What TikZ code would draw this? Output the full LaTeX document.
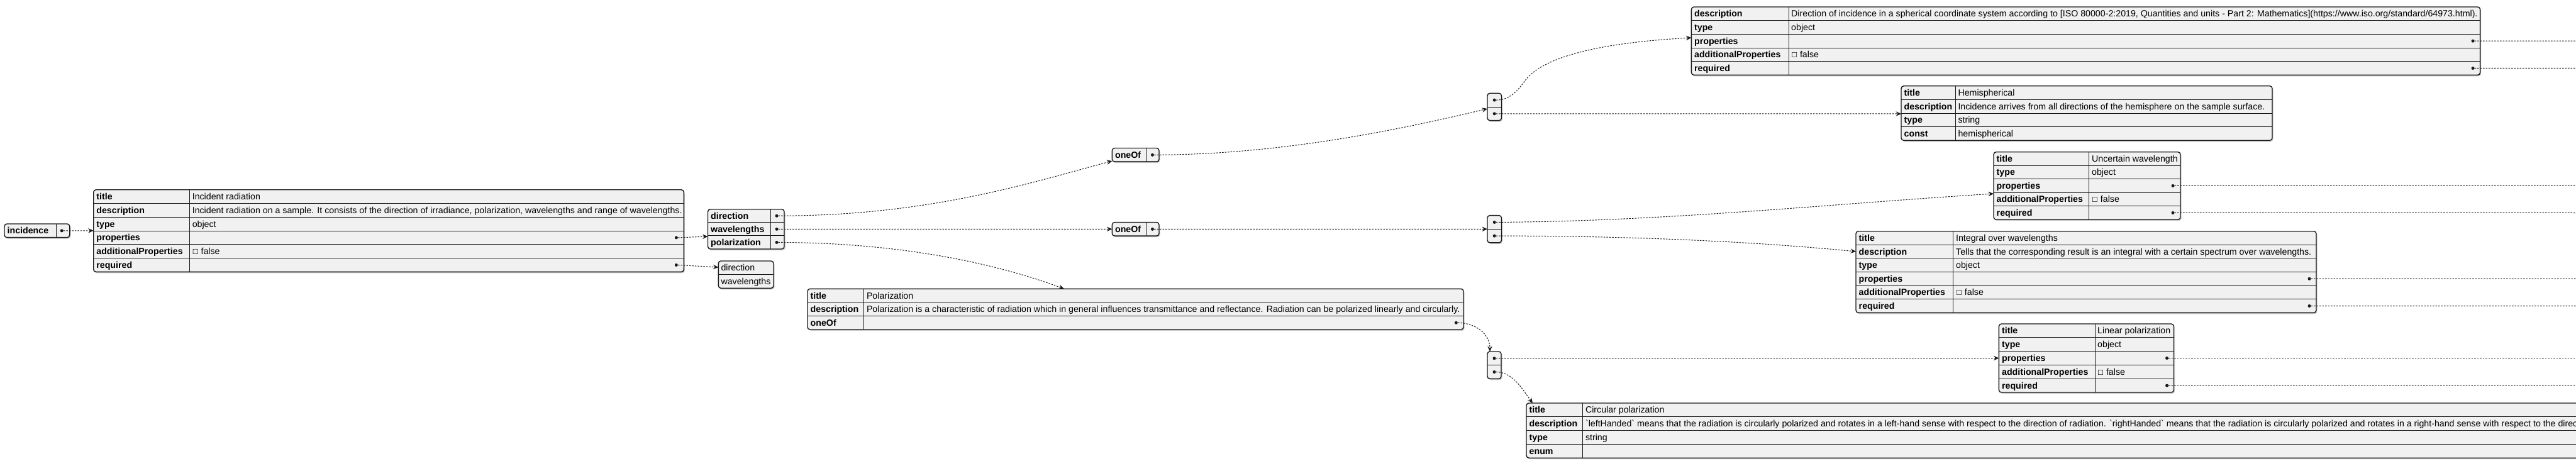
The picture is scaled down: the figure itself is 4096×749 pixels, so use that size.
\documentclass[tikz,border=0pt]{standalone}
\usepackage{fontspec}
\setmainfont{Liberation Sans}
\newfontfamily\dvs{DejaVu Sans}
\usetikzlibrary{arrows.meta}
\definecolor{boxF}{HTML}{F1F1F1}
\definecolor{lineC}{HTML}{181818}
\newcommand\valfont{\fontsize{14.2}{16}\selectfont}
\newcommand\keyfont{\fontsize{14.2}{16}\selectfont\bfseries}
\newcommand\cb{{\dvs\fontsize{11}{12}\selectfont ☐}}
\newcommand\settable[6]{\def\tN{#1}\def\tL{#2}\def\tT{#3}\def\tD{#4}\def\tR{#5}\def\rh{#6}}
\newcommand\jframe[1]{%
  \fill[shadowbox] ({\tL+1.5},{\tT+2}) rectangle ({\tR+1.5},{\tT+#1*\rh+2});
  \node[box, minimum width={(\tR-\tL)*1pt}, minimum height={#1*\rh*1pt}] (\tN) at ({(\tL+\tR)/2},{\tT+#1*\rh/2}) {};
  \pgfmathtruncatemacro\nm{#1-1}%
  \ifnum\nm>0 \foreach \i in {1,...,\nm}{\draw[sep] (\tL,{\tT+\i*\rh}) -- (\tR,{\tT+\i*\rh});}\fi
}
\newcommand\jdiv[1]{\draw[sep] (\tD,\tT) -- (\tD,{\tT+#1*\rh});}
\newcommand\jkey[2]{\node[keyt] (\tN-k#1) at ({\tL+4.5},{\tT+(#1-0.5)*\rh+5}) {#2};}
\newcommand\jval[2]{\node[valt] (\tN-v#1) at ({\tD+4},{\tT+(#1-0.5)*\rh+5}) {#2};}
\newcommand\jdot[2]{\node[dotn] (\tN-d#1) at ({#2},{\tT+(#1-0.5)*\rh}) {};}
\tikzset{
 box/.style={draw=lineC, fill=boxF, rounded corners=4pt, line width=1.4pt, inner sep=0pt, outer sep=0pt},
 shadowbox/.style={fill=black!22, rounded corners=4pt},
 sep/.style={draw=lineC, line width=0.9pt},
 keyt/.style={anchor=base west, inner sep=0pt, font=\keyfont, text=black},
 valt/.style={anchor=base west, inner sep=0pt, font=\valfont, text=black},
 dotn/.style={circle, fill=lineC, inner sep=0pt, minimum size=5pt},
 conn/.style={draw=lineC, line width=1pt, dash pattern=on 2.5pt off 2pt, -{Stealth[length=8.5pt,width=7.5pt,inset=3pt]}},
 connx/.style={draw=lineC, line width=1pt, dash pattern=on 2.5pt off 2pt},
}
\begin{document}
\begin{tikzpicture}[x=1pt,y=-1pt]
\useasboundingbox (0,0) rectangle (4096,749);
\fill[white] (0,0) rectangle (4096,749);
\clip (0,0) rectangle (4096,749);

% incidence
\settable{inc}{7}{356}{89.8}{110.8}{21.67}
\jframe{1}\jdiv{1}\jkey{1}{incidence}\jdot{1}{98.2}

% main table
\settable{main}{148.7}{301.7}{301.6}{1087.3}{21.77}
\jframe{6}\jdiv{6}
\jkey{1}{title}\jval{1}{Incident radiation}
\jkey{2}{description}\jval{2}{Incident radiation on a sample. It consists of the direction of irradiance, polarization, wavelengths and range of wavelengths.}
\jkey{3}{type}\jval{3}{object}
\jkey{4}{properties}\jdot{4}{\tR-12}
\jkey{5}{additionalProperties}\jval{5}{\cb\ false}
\jkey{6}{required}\jdot{6}{\tR-12}

% properties list
\settable{props}{1125.5}{332.7}{1225}{1247}{21.1}
\jframe{3}\jdiv{3}
\jkey{1}{direction}\jdot{1}{1235}
\jkey{2}{wavelengths}\jdot{2}{1235}
\jkey{3}{polarization}\jdot{3}{1235}

% required list
\settable{req}{1142.3}{415}{1142.3}{1230}{21.67}
\jframe{2}
\jval{1}{direction}\jval{2}{wavelengths}

% oneOf boxes
\settable{one1}{1768.4}{235.5}{1822}{1843}{21.67}
\jframe{1}\jdiv{1}\jkey{1}{oneOf}\jdot{1}{1832.4}
\settable{one2}{1768.4}{353.5}{1822}{1843}{21.67}
\jframe{1}\jdiv{1}\jkey{1}{oneOf}\jdot{1}{1832.4}

% item lists
\settable{l1}{2365}{148.3}{2365}{2387.5}{21.67}
\jframe{2}\jdot{1}{2376.2}\jdot{2}{2376.2}
\settable{l2}{2365}{342.6}{2365}{2387.5}{21.67}
\jframe{2}\jdot{1}{2376.2}\jdot{2}{2376.2}
\settable{l3}{2365}{559}{2365}{2387}{21.67}
\jframe{2}\jdot{1}{2376}\jdot{2}{2376}

% polarization
\settable{pol}{1284}{459.3}{1373.8}{2327}{21.57}
\jframe{3}\jdiv{3}
\jkey{1}{title}\jval{1}{Polarization}
\jkey{2}{description}\jval{2}{Polarization is a characteristic of radiation which in general influences transmittance and reflectance. Radiation can be polarized linearly and circularly.}
\jkey{3}{oneOf}\jdot{3}{2315.3}

% direction object (top)
\settable{dobj}{2689.4}{11}{2844}{3943.6}{21.66}
\jframe{5}\jdiv{5}
\jkey{1}{description}\jval{1}{Direction of incidence in a spherical coordinate system according to [ISO 80000-2:2019, Quantities and units - Part 2: Mathematics](https://www.iso.org/standard/64973.html).}
\jkey{2}{type}\jval{2}{object}
\jkey{3}{properties}\jdot{3}{3932}
\jkey{4}{additionalProperties}\jval{4}{\cb\ false}
\jkey{5}{required}\jdot{5}{3932}

% hemispherical
\settable{hemi}{3023}{136.7}{3109.3}{3613}{21.65}
\jframe{4}\jdiv{4}
\jkey{1}{title}\jval{1}{Hemispherical}
\jkey{2}{description}\jval{2}{Incidence arrives from all directions of the hemisphere on the sample surface.}
\jkey{3}{type}\jval{3}{string}
\jkey{4}{const}\jval{4}{hemispherical}

% uncertain wavelength
\settable{unc}{3170}{241.7}{3321.9}{3467}{21.5}
\jframe{5}\jdiv{5}
\jkey{1}{title}\jval{1}{Uncertain wavelength}
\jkey{2}{type}\jval{2}{object}
\jkey{3}{properties}\jdot{3}{3455}
\jkey{4}{additionalProperties}\jval{4}{\cb\ false}
\jkey{5}{required}\jdot{5}{3455}

% integral over wavelengths
\settable{integ}{2951}{367.7}{3105.9}{3683}{21.6}
\jframe{6}\jdiv{6}
\jkey{1}{title}\jval{1}{Integral over wavelengths}
\jkey{2}{description}\jval{2}{Tells that the corresponding result is an integral with a certain spectrum over wavelengths.}
\jkey{3}{type}\jval{3}{object}
\jkey{4}{properties}\jdot{4}{3672}
\jkey{5}{additionalProperties}\jval{5}{\cb\ false}
\jkey{6}{required}\jdot{6}{3672}

% linear polarization
\settable{lin}{3178.4}{515}{3331}{3456.5}{21.8}
\jframe{5}\jdiv{5}
\jkey{1}{title}\jval{1}{Linear polarization}
\jkey{2}{type}\jval{2}{object}
\jkey{3}{properties}\jdot{3}{3445.5}
\jkey{4}{additionalProperties}\jval{4}{\cb\ false}
\jkey{5}{required}\jdot{5}{3445.5}

% circular polarization
\settable{circ}{2427}{641}{2516.8}{4400}{21.8}
\jframe{4}\jdiv{4}
\jkey{1}{title}\jval{1}{Circular polarization}
\jkey{2}{description}\jval{2}{\textasciigrave leftHanded\textasciigrave{} means that the radiation is circularly polarized and rotates in a left-hand sense with respect to the direction of radiation. \textasciigrave rightHanded\textasciigrave{} means that the radiation is circularly polarized and rotates in a right-hand sense with respect to the direction of radiation.}
\jkey{3}{type}\jval{3}{string}
\jkey{4}{enum}

% connector end points
\coordinate (incIn) at (148.7,366.8);
\coordinate (propsIn) at (1125.5,376);
\coordinate (reqIn) at (1142.3,425);
\coordinate (one1In) at (1768.4,256);
\coordinate (one2In) at (1768.4,364.3);
\coordinate (polIn) at (1692,459.3);
\coordinate (l1In) at (2365,173);
\coordinate (l2In) at (2365,364.3);
\coordinate (l3In) at (2369,559);
\coordinate (dobjIn) at (2689.4,60);
\coordinate (hemiIn) at (3023,181);
\coordinate (uncIn) at (3170,308);
\coordinate (integIn) at (2951,400);
\coordinate (linIn) at (3178.4,569.5);
\coordinate (circIn) at (2437,641);
\coordinate (o1) at (4120,65.2);
\coordinate (o2) at (4120,108.5);
\coordinate (o3) at (4120,295.5);
\coordinate (o4) at (4120,338.5);
\coordinate (o5) at (4120,443.3);
\coordinate (o6) at (4120,486.5);
\coordinate (o7) at (4120,569.5);
\coordinate (o8) at (4120,613);

% connectors
\draw[conn] (inc-d1.east) -- (incIn);
\draw[conn] (main-d4.east) -- (propsIn);
\draw[conn] (main-d6.east) -- (reqIn);
\draw[conn] (props-d1.east) .. controls (1480,343) and (1640,290) .. (one1In);
\draw[conn] (props-d2.east) -- (one2In);
\draw[conn] (props-d3.east) .. controls (1450,386) and (1600,425) .. (polIn);
\draw[conn] (one1-d1.east) .. controls (2050,246) and (2250,200) .. (l1In);
\draw[conn] (one2-d1.east) -- (l2In);
\draw[conn] (l1-d1.east) .. controls (2400,159) and (2412,146) .. (2425,128) .. controls (2460,82) and (2580,66) .. (dobjIn);
\draw[conn] (l1-d2.east) -- (hemiIn);
\draw[conn] (l2-d1.east) .. controls (2650,352) and (2900,325) .. (uncIn);
\draw[conn] (l2-d2.east) .. controls (2600,375) and (2800,385) .. (integIn);
\draw[conn] (pol-d3.east) .. controls (2345,513.5) and (2369,530) .. (l3In);
\draw[conn] (l3-d1.east) -- (linIn);
\draw[conn] (l3-d2.east) .. controls (2405,591.5) and (2420,618) .. (circIn);
\draw[connx] (dobj-d3.east) -- (o1);
\draw[connx] (dobj-d5.east) -- (o2);
\draw[connx] (unc-d3.east) -- (o3);
\draw[connx] (unc-d5.east) -- (o4);
\draw[connx] (integ-d4.east) -- (o5);
\draw[connx] (integ-d6.east) -- (o6);
\draw[connx] (lin-d3.east) -- (o7);
\draw[connx] (lin-d5.east) -- (o8);
\end{tikzpicture}
\end{document}
